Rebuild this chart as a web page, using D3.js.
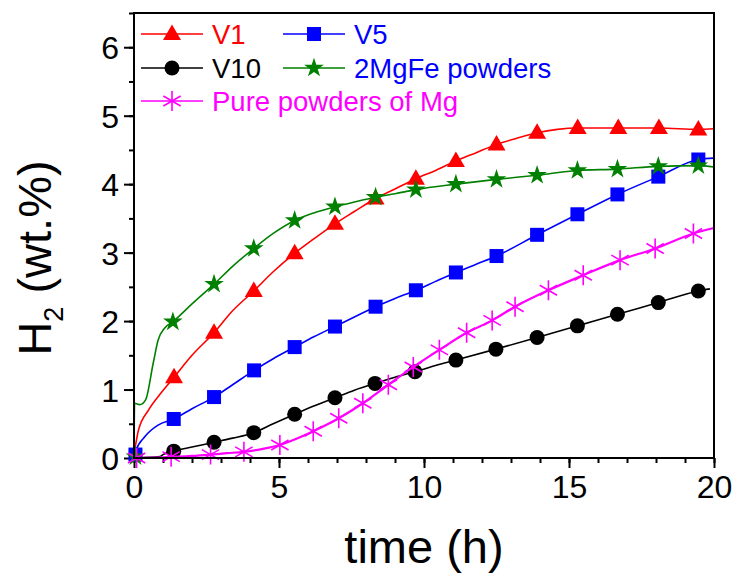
<!DOCTYPE html>
<html>
<head>
<meta charset="utf-8">
<script src="https://cdn.jsdelivr.net/npm/d3@7"></script>
<style>
  body { margin: 0; background: #fff; }
  svg text { font-family: "Liberation Sans", Arial, sans-serif; }
</style>
</head>
<body>
<svg id="chart" width="736" height="579"></svg>
<script>
// curves: [time (h), H2 wt.%]
var v1Line = [[0,0.05],[0.15,0.4],[0.5,0.7],[0.93,0.95],[1.38,1.18],[2.0,1.5],[2.76,1.83],[3.4,2.15],[4.13,2.44],[4.8,2.72],[5.54,2.99],[6.2,3.2],[6.93,3.42],[7.6,3.6],[8.33,3.79],[9.0,3.93],[9.72,4.08],[10.4,4.2],[11.1,4.34],[11.8,4.46],[12.5,4.58],[13.2,4.67],[13.9,4.75],[14.6,4.8],[15.3,4.82],[16.7,4.82],[18.1,4.82],[19.46,4.8],[20,4.81]];
var v5Line = [[0,0],[0.05,0.09],[0.37,0.31],[0.83,0.48],[1.37,0.57],[2.0,0.72],[2.76,0.89],[3.4,1.07],[4.14,1.28],[4.8,1.45],[5.54,1.62],[6.2,1.77],[6.93,1.92],[7.6,2.06],[8.33,2.21],[9.0,2.33],[9.72,2.45],[10.4,2.58],[11.1,2.71],[11.8,2.83],[12.5,2.95],[13.9,3.26],[15.29,3.56],[16.67,3.85],[18.08,4.11],[19.46,4.36],[20,4.38]];
var v10Line = [[0,0],[0.9,0.02],[1.0,0.05],[1.37,0.1],[2.0,0.16],[2.76,0.23],[3.4,0.29],[4.13,0.37],[4.8,0.5],[5.54,0.64],[6.2,0.76],[6.93,0.88],[7.6,0.99],[8.31,1.09],[9.0,1.18],[9.69,1.26],[10.4,1.35],[11.1,1.43],[12.48,1.59],[13.9,1.76],[15.29,1.93],[16.67,2.1],[18.08,2.27],[19.46,2.44],[19.86,2.47]];
var mgfeLine = [[0,0],[0.02,0.8],[0.2,0.78],[0.4,0.85],[0.66,1.38],[0.83,1.72],[1.06,1.9],[1.34,1.99],[2.0,2.25],[2.76,2.54],[3.4,2.8],[4.13,3.06],[4.8,3.28],[5.54,3.47],[6.2,3.58],[6.93,3.67],[7.6,3.74],[8.33,3.81],[9.0,3.86],[9.72,3.92],[11.1,4.0],[12.5,4.07],[13.9,4.13],[15.29,4.2],[16.67,4.22],[18.08,4.26],[19.46,4.27],[20,4.25]];
var mgLine = [[0,0],[1,0.01],[2,0.03],[2.64,0.05],[3.2,0.07],[3.79,0.09],[4.4,0.13],[5.03,0.19],[5.6,0.28],[6.18,0.39],[7.06,0.58],[7.89,0.8],[8.77,1.07],[9.63,1.33],[10.53,1.58],[11.47,1.83],[12.35,2.01],[13.14,2.21],[14.29,2.45],[15.49,2.67],[16.76,2.89],[17.97,3.06],[19.29,3.28],[20,3.36]];

// marker positions
var v1Marks = [[1.38,1.18],[2.76,1.83],[4.13,2.44],[5.54,2.99],[6.93,3.42],[8.33,3.79],[9.72,4.08],[11.1,4.34],[12.5,4.58],[13.9,4.75],[15.3,4.82],[16.7,4.82],[18.1,4.82],[19.46,4.8]];
var v5Marks = [[0.05,0.05],[1.37,0.57],[2.76,0.89],[4.14,1.28],[5.54,1.62],[6.93,1.92],[8.33,2.21],[9.72,2.45],[11.1,2.71],[12.5,2.95],[13.9,3.26],[15.29,3.56],[16.67,3.85],[18.08,4.11],[19.46,4.36]];
var v10Marks = [[1.37,0.1],[2.76,0.23],[4.13,0.37],[5.54,0.64],[6.93,0.88],[8.31,1.09],[9.69,1.26],[11.1,1.43],[12.48,1.59],[13.9,1.76],[15.29,1.93],[16.67,2.1],[18.08,2.27],[19.46,2.44]];
var mgfeMarks = [[0.05,0.02],[1.34,1.99],[2.76,2.54],[4.13,3.06],[5.54,3.47],[6.93,3.67],[8.33,3.81],[9.72,3.92],[11.1,4.0],[12.5,4.07],[13.9,4.13],[15.29,4.2],[16.67,4.22],[18.08,4.26],[19.46,4.27]];
var mgMarks = [[0.09,0.0],[1.28,0.02],[2.64,0.05],[3.79,0.09],[5.03,0.19],[6.18,0.39],[7.06,0.58],[7.89,0.8],[8.77,1.07],[9.63,1.33],[10.53,1.58],[11.47,1.83],[12.35,2.01],[13.14,2.21],[14.29,2.45],[15.49,2.67],[16.76,2.89],[17.97,3.06],[19.29,3.28]];

var seriesNames = ["V1", "V5", "V10", "2MgFe powders", "Pure powders of Mg"];
var xTicks = [0, 5, 10, 15, 20];
var yTicks = [0, 1, 2, 3, 4, 5, 6];

var series = [
  {name: seriesNames[0], line: v1Line,   marks: v1Marks,   color: "#ff0000", text: "#ff0000", shape: "triangle"},
  {name: seriesNames[1], line: v5Line,   marks: v5Marks,   color: "#0000ff", text: "#0000ff", shape: "square"},
  {name: seriesNames[2], line: v10Line,  marks: v10Marks,  color: "#000000", text: "#000000", shape: "circle"},
  {name: seriesNames[3], line: mgfeLine, marks: mgfeMarks, color: "#008000", text: "#0000ff", shape: "star"},
  {name: seriesNames[4], line: mgLine,   marks: mgMarks,   color: "#ff00ff", text: "#ff00ff", shape: "asterisk"}
];

var svg = d3.select("#chart");
var plotL = 134, plotR = 714, plotT = 13, plotB = 458;

var x = d3.scaleLinear().domain([0, 20]).range([plotL, plotR]);
var y = d3.scaleLinear().domain([0, 6.5]).range([plotB, plotT]);

// axes
var xAxis = d3.axisBottom(x).tickValues(xTicks).tickSize(10).tickSizeOuter(0).tickPadding(7).tickFormat(d3.format("d"));
var xMinor = d3.axisBottom(x).tickValues(d3.range(0, 21, 1)).tickSize(5).tickSizeOuter(0).tickFormat("");
var yAxis = d3.axisLeft(y).tickValues(yTicks).tickSize(10).tickSizeOuter(0).tickPadding(5).tickFormat(d3.format("d"));
var yMinor = d3.axisLeft(y).tickValues(d3.range(0, 6.6, 0.5)).tickSize(5).tickSizeOuter(0).tickFormat("");

function styleAxis(g){
  g.select(".domain").remove();
  g.selectAll("line").attr("stroke", "#000").attr("stroke-width", 2);
  g.selectAll("text").attr("fill", "#000").style("font-size", "32px");
}

svg.append("g").attr("transform", "translate(0," + plotB + ")").call(xMinor).call(styleAxis);
svg.append("g").attr("transform", "translate(0," + plotB + ")").call(xAxis).call(styleAxis);
svg.append("g").attr("transform", "translate(" + plotL + ",0)").call(yMinor).call(styleAxis);
svg.append("g").attr("transform", "translate(" + plotL + ",0)").call(yAxis).call(styleAxis)
  .selectAll("text").attr("dy", "0.36em");

// axis titles
svg.append("text")
  .attr("x", (plotL + plotR) / 2).attr("y", 563)
  .attr("text-anchor", "middle")
  .style("font-size", "47px")
  .text("time (h)");

var yt = svg.append("text")
  .attr("transform", "translate(51,258) rotate(-90)")
  .attr("text-anchor", "middle")
  .style("font-size", "47px");
yt.append("tspan").text("H");
yt.append("tspan").attr("dy", 12).style("font-size", "27px").text("2");
yt.append("tspan").attr("dy", -12).text(" (wt.%)");

// markers
function drawMark(g, shape, color){
  if (shape == "triangle"){
    g.append("path").attr("d", "M0,-9.5L9,6L-9,6Z").attr("fill", color);
  } else if (shape == "square"){
    g.append("rect").attr("x", -7).attr("y", -7).attr("width", 14).attr("height", 14).attr("fill", color);
  } else if (shape == "circle"){
    g.append("circle").attr("r", 7.5).attr("fill", color);
  } else if (shape == "star"){
    g.append("path").attr("d", d3.symbol().type(d3.symbolStar).size(120)()).attr("fill", color);
  } else {
    var r = 10, p = "M0," + (-r) + "L0," + r;
    [30, 150].forEach(function(a){
      var c = Math.cos(a * Math.PI / 180) * r, s = Math.sin(a * Math.PI / 180) * r;
      p += "M" + (-c) + "," + (-s) + "L" + c + "," + s;
    });
    g.append("path").attr("d", p).attr("stroke", color).attr("stroke-width", 1.6).attr("fill", "none");
  }
}

var line = d3.line()
  .x(function(d){ return x(d[0]); })
  .y(function(d){ return y(d[1]); })
  .curve(d3.curveMonotoneX);

series.forEach(function(s){
  svg.append("path")
    .datum(s.line)
    .attr("d", line)
    .attr("fill", "none")
    .attr("stroke", s.color)
    .attr("stroke-width", s.shape == "asterisk" ? 2.2 : 1.6);

  svg.selectAll(null)
    .data(s.marks).enter()
    .append("g")
    .attr("transform", function(d){ return "translate(" + x(d[0]) + "," + y(d[1]) + ")"; })
    .each(function(){ drawMark(d3.select(this), s.shape, s.color); });
});

// frame
svg.append("rect")
  .attr("x", plotL).attr("y", plotT)
  .attr("width", plotR - plotL).attr("height", plotB - plotT)
  .attr("fill", "none").attr("stroke", "#000").attr("stroke-width", 2);

// legend
var legendPos = [[141, 34], [283, 34], [141, 68], [283, 68], [141, 101]];
series.forEach(function(s, i){
  var g = svg.append("g").attr("transform", "translate(" + legendPos[i][0] + "," + legendPos[i][1] + ")");
  g.append("line").attr("x1", 0).attr("x2", 62).attr("y1", 0).attr("y2", 0)
    .attr("stroke", s.color).attr("stroke-width", 1.6);
  drawMark(g.append("g").attr("transform", "translate(31,0)"), s.shape, s.color);
  g.append("text").attr("x", 71).attr("y", 9.5)
    .style("font-size", "27.5px")
    .attr("fill", s.text)
    .text(s.name);
});
</script>
</body>
</html>
